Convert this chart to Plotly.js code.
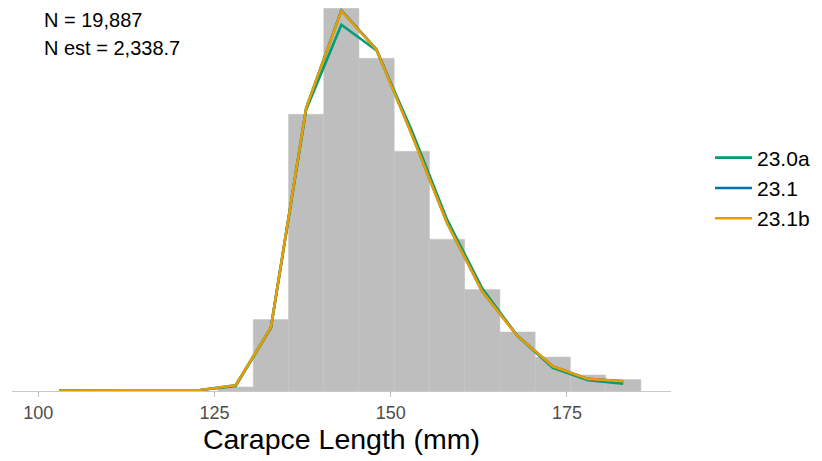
<!DOCTYPE html>
<html>
<head>
<meta charset="utf-8">
<script src="https://cdn.plot.ly/plotly-3.0.1.min.js"></script>
<style>html,body{margin:0;padding:0;background:#fff;}#chart{width:822px;height:461px;}</style>
</head>
<body>
<div id="chart"></div>
<script>
// Histogram of observed carapace length (proportion per 5 mm bin)
const binCenters = [128, 133, 138, 143, 148, 153, 158, 163, 168, 173, 178, 183];
const binProportion = [0.0024, 0.0425, 0.1646, 0.2276, 0.1979, 0.1426, 0.0903, 0.0603, 0.0351, 0.0202, 0.0095, 0.0068];

// Model-predicted length compositions
const lengthPoints = [103, 108, 113, 118, 123, 128, 133, 138, 143, 148, 153, 158, 163, 168, 173, 178, 183];
const series23_0a = [0.0002, 0.0002, 0.0002, 0.0003, 0.0006, 0.0030, 0.0375, 0.1673, 0.2178, 0.2025, 0.1548, 0.1019, 0.0609, 0.0326, 0.0138, 0.0064, 0.0043];
const series23_1  = [0.0002, 0.0002, 0.0002, 0.0003, 0.0006, 0.0034, 0.0377, 0.1683, 0.2263, 0.2031, 0.1526, 0.1000, 0.0592, 0.0327, 0.0147, 0.0072, 0.0058];
const series23_1b = [0.0002, 0.0002, 0.0002, 0.0003, 0.0006, 0.0034, 0.0377, 0.1683, 0.2261, 0.2029, 0.1524, 0.0999, 0.0591, 0.0326, 0.0147, 0.0072, 0.0058];

const seriesNames = ["23.0a", "23.1", "23.1b"];
const seriesColors = ["#009E73", "#0072B2", "#E69F00"];
const tickVals = [100, 125, 150, 175];
const annotationTexts = ["N = 19,887", "N est = 2,338.7"];
const xTitle = "Carapce Length (mm)";

const font = "Liberation Sans, Arial, sans-serif";

const traces = [
  {
    type: "bar",
    x: binCenters,
    y: binProportion,
    width: 5,
    marker: {color: "#BEBEBE", line: {color: "#C4C4C4", width: 0.5}},
    showlegend: false,
    hoverinfo: "skip"
  }
];
const allSeries = [series23_0a, series23_1, series23_1b];
for (let i = 0; i < allSeries.length; i++) {
  traces.push({
    type: "scatter",
    mode: "lines",
    x: lengthPoints,
    y: allSeries[i],
    name: seriesNames[i],
    line: {color: seriesColors[i], width: 2.6}
  });
}

const layout = {
  width: 822,
  height: 461,
  margin: {l: 12, r: 150, t: 8, b: 70},
  paper_bgcolor: "#ffffff",
  plot_bgcolor: "#ffffff",
  font: {family: font, color: "#000"},
  bargap: 0,
  xaxis: {
    range: [96.27, 189.77],
    tickvals: tickVals,
    ticktext: tickVals.map(String),
    ticks: "outside",
    ticklen: 5,
    tickwidth: 1,
    tickcolor: "#BDBDBD",
    tickfont: {size: 18, color: "#4D4D4D", family: font},
    showgrid: false,
    zeroline: false,
    showline: true,
    linecolor: "#C8C8C8",
    linewidth: 1,
    title: {text: xTitle, font: {size: 28.5, color: "#000", family: font}, standoff: 6}
  },
  yaxis: {
    range: [0, 0.2278],
    showticklabels: false,
    showgrid: false,
    zeroline: false,
    showline: false,
    ticks: ""
  },
  legend: {
    x: 1.0576,
    xanchor: "left",
    y: 0.53,
    yanchor: "middle",
    font: {size: 21, color: "#000", family: font},
    tracegroupgap: 0,
    itemwidth: 37,
    bgcolor: "rgba(0,0,0,0)"
  },
  annotations: annotationTexts.map((t, i) => ({
    text: t,
    xref: "paper",
    yref: "paper",
    x: 0.045,
    y: i === 0 ? 0.9687 : 0.8956,
    xanchor: "left",
    yanchor: "middle",
    showarrow: false,
    font: {size: 20, color: "#000", family: font}
  }))
};

Plotly.newPlot("chart", traces, layout, {displayModeBar: false, staticPlot: true});
</script>
</body>
</html>
